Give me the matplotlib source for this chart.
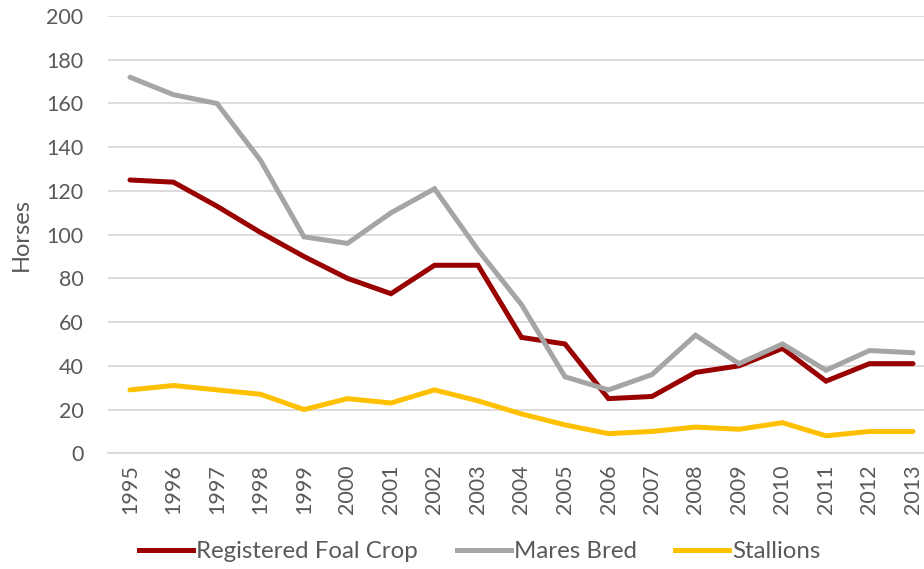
import matplotlib
matplotlib.use("Agg")
import matplotlib.pyplot as plt
from matplotlib.lines import Line2D

years = [str(y) for y in range(1995, 2014)]
foal_crop = [125, 124, 113, 101, 90, 80, 73, 86, 86, 53, 50, 25, 26, 37, 40, 48, 33, 41, 41]
mares_bred = [172, 164, 160, 134, 99, 96, 110, 121, 93, 68, 35, 29, 36, 54, 41, 50, 38, 47, 46]
stallions = [29, 31, 29, 27, 20, 25, 23, 29, 24, 18, 13, 9, 10, 12, 11, 14, 8, 10, 10]
yticks = list(range(0, 201, 20))

series = [("Registered Foal Crop", foal_crop, "#990000"),
          ("Mares Bred", mares_bred, "#A5A5A5"),
          ("Stallions", stallions, "#FFC000")]

plt.rcParams['font.family'] = ['Lato', 'DejaVu Sans']
fig = plt.figure(figsize=(9.24, 5.69), dpi=100)
ax = fig.add_axes([108.25/924, 1-453.3/569, (934.75-108.25)/924, (453.3-16)/569])

x = list(range(len(years)))
for name, vals, col in series:
    ax.plot(x, vals, color=col, lw=3.6, label=name, solid_capstyle='round', solid_joinstyle='miter')

ax.set_xlim(-0.5, len(years) - 0.5)
ax.set_ylim(0, 200)
ax.set_yticks(yticks)
ax.set_xticks(x)
ax.set_xticklabels(years, rotation=90)
ax.yaxis.grid(True, color="#D9D9D9", lw=1.3)
ax.set_axisbelow(True)
for s in ["top", "right", "left"]:
    ax.spines[s].set_visible(False)
ax.spines["bottom"].set_color("#D9D9D9")
ax.spines["bottom"].set_linewidth(1.3)
ax.tick_params(axis='both', length=0, labelsize=15.5, colors="#595959")
ax.tick_params(axis='y', pad=18)
ax.tick_params(axis='x', pad=8)
ax.set_ylabel("Horses", fontsize=17, color="#595959", labelpad=10)

handles = [Line2D([0], [0], color=c, lw=3.6) for _, _, c in series]
fig.legend(handles, [n for n, _, _ in series], loc='center', bbox_to_anchor=(480/924, 1-552/569),
           ncol=3, frameon=False, fontsize=17.3, handlelength=2.25, handletextpad=0.13,
           columnspacing=1.6, labelcolor="#595959")

fig.savefig("out.png", dpi=100)
